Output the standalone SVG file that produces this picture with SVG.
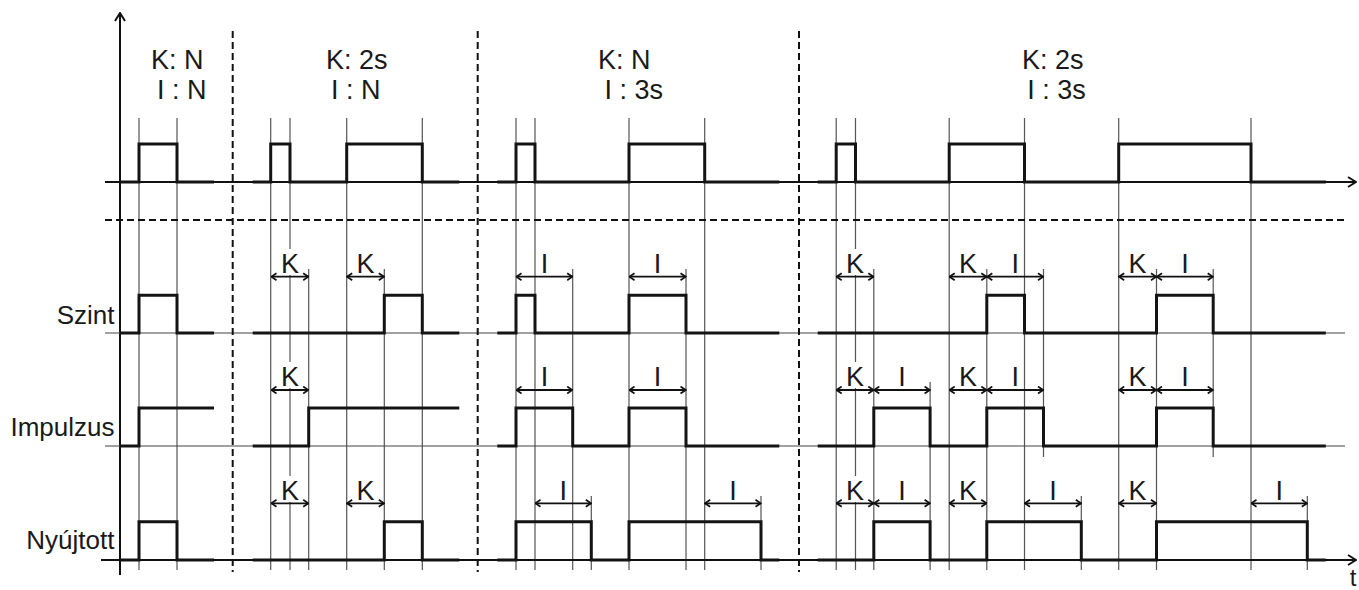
<svg xmlns="http://www.w3.org/2000/svg" width="1359" height="590" viewBox="0 0 1359 590">
<style>
.sig{fill:none;stroke:#141414;stroke-width:3;stroke-linejoin:miter}
.tick{stroke:#555;stroke-width:1.2}
.axis{stroke:#111;stroke-width:2;fill:none}
.base{stroke:#444;stroke-width:1.2}
.dash{stroke:#111;stroke-width:2;stroke-dasharray:7 4;fill:none}
.dim{stroke:#111;stroke-width:1.8;marker-start:url(#ah);marker-end:url(#ah)}
.mask{fill:#fff}
text{font-family:"Liberation Sans",Arial,sans-serif;font-size:26px;fill:#1a1a1a}
.hd{font-size:27px}
.lbl{text-anchor:middle;font-size:27px}
.row{text-anchor:end}
</style>
<defs>
<marker id="ah" viewBox="0 0 7 9" refX="6.5" refY="4.5" markerWidth="7" markerHeight="9" markerUnits="userSpaceOnUse" orient="auto-start-reverse">
<path d="M1,1 L6.2,4.5 L1,8" fill="none" stroke="#111" stroke-width="1.7"/>
</marker>
<marker id="ax" viewBox="0 0 10 12" refX="9" refY="6" markerWidth="10" markerHeight="12" markerUnits="userSpaceOnUse" orient="auto">
<path d="M1,1 L9,6 L1,11" fill="none" stroke="#111" stroke-width="2"/>
</marker>
</defs>

<g id="ticks">
<path class="tick" d="M139,118V570M177,118V570M270.7,118V570M290,118V570M346.7,118V570M422.3,118V570M516,118V570M535,118V570M629,118V570M704.7,118V570M836.2,118V570M855.5,118V570M949.2,118V570M1024.5,118V570M1118.7,118V570M1251,118V570"/>
<path class="tick" d="M308.7,269V570M384.3,269V570M572.7,269V570M686,269V570M873.8,269V570M986.8,269V570M1156.5,269V570M1043.5,269V457M1213.2,269V457M930.1,382V570M591.3,496V570M761,496V570M1081.3,496V570M1307.3,496V570"/>
</g>

<g id="masks">
<rect class="mask" x="280" y="249" width="20" height="26"/>
<rect class="mask" x="280" y="362" width="20" height="26"/>
<rect class="mask" x="280" y="476" width="20" height="26"/>
<rect class="mask" x="845" y="249" width="20" height="26"/>
<rect class="mask" x="845" y="362" width="20" height="26"/>
<rect class="mask" x="845" y="476" width="20" height="26"/>
</g>

<g id="axes">
<line class="axis" x1="120" y1="575" x2="120" y2="13" marker-end="url(#ax)"/>
<line class="axis" x1="105" y1="182" x2="1356" y2="182" marker-end="url(#ax)"/>
<line class="axis" x1="101" y1="560" x2="1356" y2="560" marker-end="url(#ax)"/>
<line class="base" x1="105" y1="333" x2="1345" y2="333"/>
<line class="base" x1="105" y1="446" x2="1345" y2="446"/>
<line class="dash" x1="105" y1="220" x2="1348" y2="220"/>
<line class="dash" x1="232.7" y1="31" x2="232.7" y2="572"/>
<line class="dash" x1="477.7" y1="31" x2="477.7" y2="572"/>
<line class="dash" x1="799" y1="31" x2="799" y2="572"/>
<text x="1353" y="586" style="text-anchor:middle;font-size:24px">t</text>
</g>

<g id="headers" class="hd">
<text class="hd" x="151" y="69">K: N</text>
<text class="hd" x="157" y="99">I : N</text>
<text class="hd" x="326" y="69">K: 2s</text>
<text class="hd" x="331" y="99">I : N</text>
<text class="hd" x="598" y="69">K: N</text>
<text class="hd" x="604.4" y="99">I : 3s</text>
<text class="hd" x="1022" y="69">K: 2s</text>
<text class="hd" x="1027.3" y="99">I : 3s</text>
</g>

<g id="input">
<path class="sig" d="M120,182H139V144H177V182H214"/>
<path class="sig" d="M252.7,182H270.7V144H290V182H346.7V144H422.3V182H459.3"/>
<path class="sig" d="M497.3,182H516V144H535V182H629V144H704.7V182H779.3"/>
<path class="sig" d="M817.7,182H836.2V144H855.5V182H949.2V144H1024.5V182H1118.7V144H1251V182H1325.8"/>
</g>

<g id="szint">
<text class="row" x="114.5" y="324">Szint</text>
<path class="sig" d="M120,333H139V295.3H177V333H214"/>
<path class="sig" d="M252.7,333H384.3V295.3H422.3V333H459.3"/>
<path class="sig" d="M497.3,333H516V295.3H535V333H629V295.3H686V333H779.3"/>
<path class="sig" d="M817.7,333H986.8V295.3H1024.5V333H1156.5V295.3H1213.2V333H1325.8"/>
</g>

<g id="impulzus">
<text class="row" x="114.5" y="436">Impulzus</text>
<path class="sig" d="M120,446H139V408H214"/>
<path class="sig" d="M252.7,446H308.7V408H459.3"/>
<path class="sig" d="M497.3,446H516V408H572.7V446H629V408H686V446H779.3"/>
<path class="sig" d="M817.7,446H873.8V408H930.1V446H986.8V408H1043.5V446H1156.5V408H1213.2V446H1325.8"/>
</g>

<g id="nyujtott">
<text class="row" x="114.5" y="549">Nyújtott</text>
<path class="sig" d="M120,560H139V521.7H177V560H214"/>
<path class="sig" d="M252.7,560H384.3V521.7H422.3V560H459.3"/>
<path class="sig" d="M497.3,560H516V521.7H591.3V560H629V521.7H761V560H779.3"/>
<path class="sig" d="M817.7,560H873.8V521.7H930.1V560H986.8V521.7H1081.3V560H1156.5V521.7H1307.3V560H1325.8"/>
</g>

<g id="connectors">
<line class="dim" x1="271" y1="276.7" x2="308.7" y2="276.7"/>
<line class="dim" x1="346.7" y1="276.7" x2="384.3" y2="276.7"/>
<line class="dim" x1="516" y1="276.7" x2="572.7" y2="276.7"/>
<line class="dim" x1="629" y1="276.7" x2="686" y2="276.7"/>
<line class="dim" x1="836.2" y1="276.7" x2="873.8" y2="276.7"/>
<line class="dim" x1="949.2" y1="276.7" x2="986.8" y2="276.7"/>
<line class="dim" x1="986.8" y1="276.7" x2="1043.5" y2="276.7"/>
<line class="dim" x1="1118.7" y1="276.7" x2="1156.5" y2="276.7"/>
<line class="dim" x1="1156.5" y1="276.7" x2="1213.2" y2="276.7"/>

<line class="dim" x1="271" y1="390" x2="308.7" y2="390"/>
<line class="dim" x1="516" y1="390" x2="572.7" y2="390"/>
<line class="dim" x1="629" y1="390" x2="686" y2="390"/>
<line class="dim" x1="836.2" y1="390" x2="873.8" y2="390"/>
<line class="dim" x1="873.8" y1="390" x2="930.1" y2="390"/>
<line class="dim" x1="949.2" y1="390" x2="986.8" y2="390"/>
<line class="dim" x1="986.8" y1="390" x2="1043.5" y2="390"/>
<line class="dim" x1="1118.7" y1="390" x2="1156.5" y2="390"/>
<line class="dim" x1="1156.5" y1="390" x2="1213.2" y2="390"/>

<line class="dim" x1="271" y1="503.3" x2="308.7" y2="503.3"/>
<line class="dim" x1="346.7" y1="503.3" x2="384.3" y2="503.3"/>
<line class="dim" x1="535" y1="503.3" x2="591.3" y2="503.3"/>
<line class="dim" x1="704.7" y1="503.3" x2="761" y2="503.3"/>
<line class="dim" x1="836.2" y1="503.3" x2="873.8" y2="503.3"/>
<line class="dim" x1="873.8" y1="503.3" x2="930.1" y2="503.3"/>
<line class="dim" x1="949.2" y1="503.3" x2="986.8" y2="503.3"/>
<line class="dim" x1="1024.5" y1="503.3" x2="1081.3" y2="503.3"/>
<line class="dim" x1="1118.7" y1="503.3" x2="1156.5" y2="503.3"/>
<line class="dim" x1="1251" y1="503.3" x2="1307.3" y2="503.3"/>
</g>

<g id="dim-labels">
<text class="lbl" x="290" y="273">K</text>
<text class="lbl" x="365.5" y="273">K</text>
<text class="lbl" x="544.4" y="273">I</text>
<text class="lbl" x="657.5" y="273">I</text>
<text class="lbl" x="855" y="273">K</text>
<text class="lbl" x="968" y="273">K</text>
<text class="lbl" x="1015.2" y="273">I</text>
<text class="lbl" x="1137.6" y="273">K</text>
<text class="lbl" x="1184.9" y="273">I</text>

<text class="lbl" x="290" y="386">K</text>
<text class="lbl" x="544.4" y="386">I</text>
<text class="lbl" x="657.5" y="386">I</text>
<text class="lbl" x="855" y="386">K</text>
<text class="lbl" x="902" y="386">I</text>
<text class="lbl" x="968" y="386">K</text>
<text class="lbl" x="1015.2" y="386">I</text>
<text class="lbl" x="1137.6" y="386">K</text>
<text class="lbl" x="1184.9" y="386">I</text>

<text class="lbl" x="290" y="499.5">K</text>
<text class="lbl" x="365.5" y="499.5">K</text>
<text class="lbl" x="563.2" y="499.5">I</text>
<text class="lbl" x="732.9" y="499.5">I</text>
<text class="lbl" x="855" y="499.5">K</text>
<text class="lbl" x="902" y="499.5">I</text>
<text class="lbl" x="968" y="499.5">K</text>
<text class="lbl" x="1052.9" y="499.5">I</text>
<text class="lbl" x="1137.6" y="499.5">K</text>
<text class="lbl" x="1279.2" y="499.5">I</text>
</g>
</svg>
